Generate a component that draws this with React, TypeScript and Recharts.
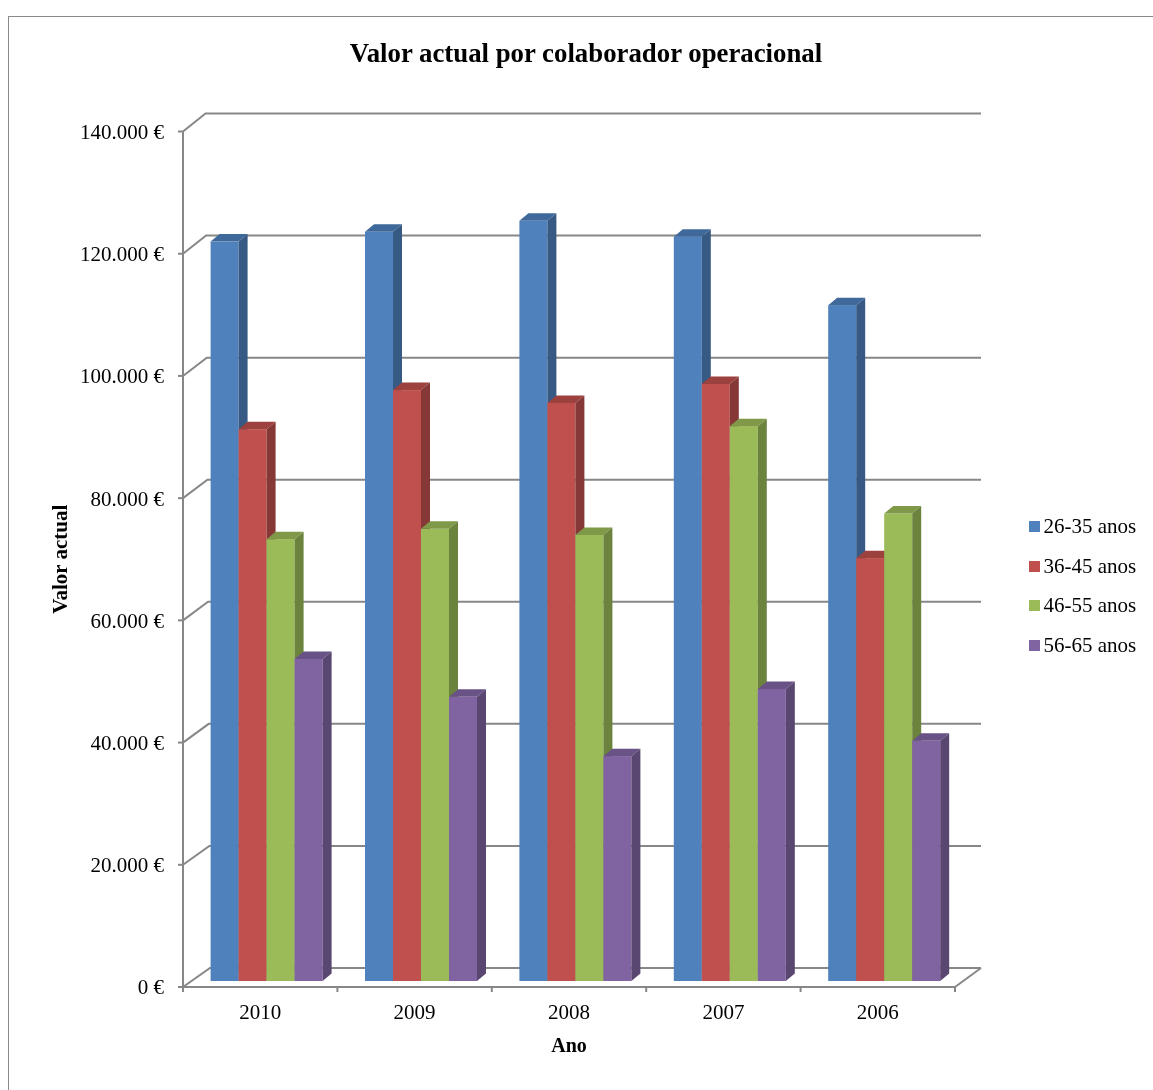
import React from "react";
import { BarChart, Bar, XAxis, YAxis, CartesianGrid, Legend, Label } from "recharts";

const years = ["2010", "2009", "2008", "2007", "2006"];
const age26to35 = [121000, 122600, 124400, 121800, 110600];
const age36to45 = [90300, 96700, 94600, 97700, 69200];
const age46to55 = [72300, 74000, 73000, 90800, 76500];
const age56to65 = [52700, 46500, 36800, 47800, 39300];
const yTicks = [0, 20000, 40000, 60000, 80000, 100000, 120000, 140000];

const SERIF = '"Liberation Serif", "Times New Roman", serif';
const GRID = "#878787";

// plot area in chart coords (front plane)
const PLOT_TOP = 123.5;
const PLOT_BOTTOM = 979;

const series = [
  { key: "a", name: "26-35 anos", front: "#4F81BD", top: "#40699B", side: "#375A84" },
  { key: "b", name: "36-45 anos", front: "#C0504D", top: "#9D413F", side: "#863836" },
  { key: "c", name: "46-55 anos", front: "#9BBB59", top: "#7F9949", side: "#6C833E" },
  { key: "d", name: "56-65 anos", front: "#8064A2", top: "#695285", side: "#594671" },
];

const data = years.map((year, i) => ({
  year,
  a: age26to35[i],
  b: age36to45[i],
  c: age46to55[i],
  d: age56to65[i],
}));

const formatEuro = (v: number) => {
  const s = String(Math.round(v)).replace(/\B(?=(\d{3})+(?!\d))/g, ".");
  return `${s} €`;
};

const depthAt = (y: number) => {
  const t = (y - PLOT_TOP) / (PLOT_BOTTOM - PLOT_TOP);
  return { dx: 22.5 + 4.5 * t, dy: 18 + 1 * t };
};

// back wall gridline with the slanted connector to the front axis
const renderGridLine = (props: any) => {
  const { x1, x2, y1, key } = props;
  const { dx, dy } = depthAt(y1);
  const backRight = x2 + 26;
  const isFloor = y1 > PLOT_BOTTOM - 2;
  const n = years.length;
  return (
    <g key={key}>
      <polyline
        points={`${x1},${y1} ${x1 + dx},${y1 - dy} ${backRight},${y1 - dy}`}
        fill="none"
        stroke={GRID}
        strokeWidth={2}
      />
      {isFloor && (
        <>
          <line x1={x2} y1={y1} x2={backRight} y2={y1 - dy} stroke={GRID} strokeWidth={2} />
          {Array.from({ length: n + 1 }).map((_, i) => {
            const x = x1 + ((x2 - x1) * i) / n;
            return <line key={i} x1={x} y1={y1} x2={x} y2={y1 + 5} stroke={GRID} strokeWidth={2} />;
          })}
        </>
      )}
    </g>
  );
};

const make3DBar = (s: (typeof series)[number]) => (props: any) => {
  const { x, y, width, height } = props;
  if (!height || height <= 0) return <g />;
  const fx = x + 6.6;
  const fy = y - 6;
  const dx = 9;
  const dy = 7.5;
  return (
    <g>
      <rect x={fx} y={fy} width={width} height={height} fill={s.front} />
      <polygon
        points={`${fx},${fy} ${fx + dx},${fy - dy} ${fx + width + dx},${fy - dy} ${fx + width},${fy}`}
        fill={s.top}
      />
      <polygon
        points={`${fx + width},${fy} ${fx + width + dx},${fy - dy} ${fx + width + dx},${fy + height - dy} ${fx + width},${fy + height}`}
        fill={s.side}
      />
    </g>
  );
};

const YTitle = (props: any) => {
  const vb = props.viewBox;
  const x = vb.x + 18.5;
  const y = vb.y + vb.height / 2;
  return (
    <text
      x={x}
      y={y}
      transform={`rotate(-90 ${x} ${y})`}
      textAnchor="middle"
      fontFamily={SERIF}
      fontSize={21}
      fontWeight="bold"
      fill="#000"
    >
      Valor actual
    </text>
  );
};

const XTitle = (props: any) => {
  const vb = props.viewBox;
  return (
    <text
      x={vb.x + vb.width / 2}
      y={vb.y + 65}
      textAnchor="middle"
      fontFamily={SERIF}
      fontSize={20}
      fontWeight="bold"
      fill="#000"
    >
      Ano
    </text>
  );
};

const renderLegend = () => (
  <div style={{ fontFamily: SERIF, fontSize: 21, color: "#000" }}>
    {series.map((s) => (
      <div key={s.key} style={{ display: "flex", alignItems: "center", height: 39.4 }}>
        <span style={{ display: "inline-block", width: 11, height: 11, background: s.front, marginRight: 3.5 }} />
        <span>{s.name}</span>
      </div>
    ))}
  </div>
);

export default function App() {
  return (
    <div style={{ position: "relative", width: 1137, height: 1074 }}>
      <div
        style={{
          position: "fixed",
          left: 8,
          top: 16,
          width: 2000,
          height: 2000,
          borderLeft: "1.5px solid #8a8a8a",
          borderTop: "1.5px solid #8a8a8a",
          pointerEvents: "none",
        }}
      />
      <div
        style={{
          position: "absolute",
          left: 0,
          top: 31.6,
          width: 1156,
          textAlign: "center",
          fontFamily: SERIF,
          fontSize: 26.8,
          lineHeight: "26.8px",
          fontWeight: "bold",
          color: "#000",
          whiteSpace: "nowrap",
        }}
      >
        Valor actual por colaborador operacional
      </div>
      <BarChart
        width={1137}
        height={1074}
        data={data}
        margin={{ top: PLOT_TOP, right: 190, bottom: 29, left: 40 }}
        barCategoryGap={21}
        barGap={0}
      >
        <CartesianGrid vertical={false} horizontal={renderGridLine} />
        <XAxis
          dataKey="year"
          axisLine={{ stroke: GRID, strokeWidth: 2 }}
          tickLine={false}
          tickSize={0}
          tickMargin={17}
          height={66}
          tick={{ fill: "#000", fontSize: 21, fontFamily: SERIF }}
        >
          <Label content={XTitle} />
        </XAxis>
        <YAxis
          width={135}
          domain={[0, 140000]}
          ticks={yTicks}
          interval={0}
          axisLine={{ stroke: GRID, strokeWidth: 2 }}
          tickLine={{ stroke: GRID, strokeWidth: 2 }}
          tickSize={5}
          tickMargin={14}
          tickFormatter={formatEuro}
          tick={{ fill: "#000", fontSize: 21, fontFamily: SERIF }}
        >
          <Label content={YTitle} />
        </YAxis>
        <Legend
          layout="vertical"
          align="center"
          verticalAlign="middle"
          content={renderLegend}
          wrapperStyle={{ left: 1021, top: 499.3, width: 140 }}
        />
        {series.map((s) => (
          <Bar key={s.key} dataKey={s.key} name={s.name} fill={s.front} shape={make3DBar(s)} isAnimationActive={false} />
        ))}
      </BarChart>
    </div>
  );
}
